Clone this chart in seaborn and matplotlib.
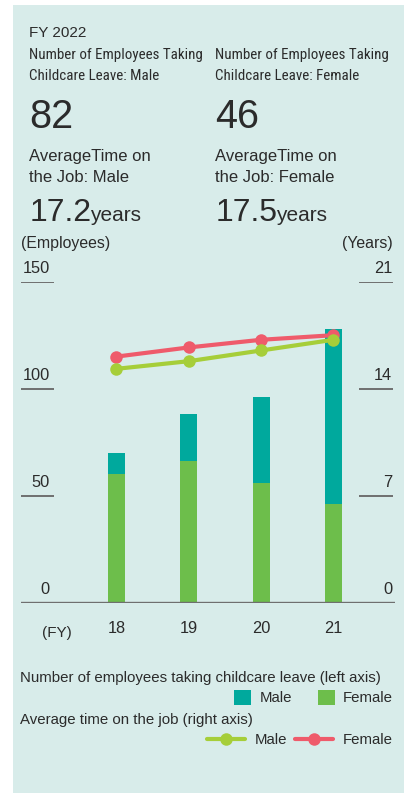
import matplotlib
matplotlib.use("Agg")
import matplotlib.pyplot as plt
import seaborn as sns
from matplotlib.patches import Rectangle
from matplotlib import font_manager

# data
fy = ["18", "19", "20", "21"]
leave_female = [60, 66, 56, 46]
leave_male = [10, 22, 40, 82]
years_male = [15.3, 15.8, 16.5, 17.2]
years_female = [16.1, 16.7, 17.2, 17.5]
left_ticks = [0, 50, 100, 150]
right_ticks = [0, 7, 14, 21]

leave_total = [f + m for f, m in zip(leave_female, leave_male)]

TEAL = "#00a99d"
GREEN = "#6dbe4b"
LIME = "#a6ce39"
RED = "#ef5b6b"
PANEL = "#d8ecea"
TXT = "#2b2b2b"
GRID = "#6f6f6f"

sns.set_style("white")
plt.rcParams["font.family"] = ["Liberation Sans", "DejaVu Sans"]
plt.rcParams["text.color"] = TXT

W, H = 404, 793
fig = plt.figure(figsize=(W / 100, H / 100), dpi=100, facecolor="white")


def px(x, y):
    return x / W, 1 - y / H


# panel background
fig.patches.append(Rectangle(px(13, H), (W - 13) / W, (H - 5) / H,
                             transform=fig.transFigure, facecolor=PANEL,
                             edgecolor="none", zorder=-10))

ax = fig.add_axes([21 / W, 1 - 602.7 / H, 374 / W, 321 / H])
ax.set_facecolor("none")

# stacked bars: total (male on top) then female in front
sns.barplot(x=fy, y=leave_total, color=TEAL, saturation=1, width=0.235,
            linewidth=0, edgecolor="none", ax=ax)
sns.barplot(x=fy, y=leave_female, color=GREEN, saturation=1, width=0.235,
            linewidth=0, edgecolor="none", ax=ax)

ax2 = ax.twinx()
ax2.set_facecolor("none")
sns.pointplot(x=fy, y=years_male, color=LIME, errorbar=None, ax=ax2,
              markersize=9, linewidth=3, markeredgewidth=0)
sns.pointplot(x=fy, y=years_female, color=RED, errorbar=None, ax=ax2,
              markersize=9, linewidth=3, markeredgewidth=0)
# red line behind green
ax2.lines[1].set_zorder(2)
ax2.lines[0].set_zorder(3)

for a in (ax, ax2):
    a.set_xlim(-1.321, 3.853)
    for s in a.spines.values():
        s.set_visible(False)
    a.set_xlabel("")
    a.set_ylabel("")
    a.set_yticks([])
ax.set_ylim(0, 150)
ax2.set_ylim(0, 21)
ax2.set_xticks([])

ax.set_xticks(range(len(fy)))
ax.set_xticklabels(fy, fontsize=11.8, color=TXT)
ax.tick_params(axis="x", length=0, pad=13)

# baseline and short tick rules
ax.axhline(0, color=GRID, lw=1.7, zorder=5)
ax.hlines(left_ticks[1:], 0, 0.089, transform=ax.get_yaxis_transform(),
          color=GRID, lw=1.4)
ax2.hlines(right_ticks[1:], 0.9045, 0.9955, transform=ax2.get_yaxis_transform(),
           color=GRID, lw=1.4)

for v in left_ticks:
    ax.annotate(str(v), xy=(0.077, v), xycoords=ax.get_yaxis_transform(),
                xytext=(0, 4), textcoords="offset points",
                ha="right", va="bottom", fontsize=11.8, color=TXT)
for v in right_ticks:
    ax2.annotate(str(v), xy=(0.992, v), xycoords=ax2.get_yaxis_transform(),
                 xytext=(0, 4), textcoords="offset points",
                 ha="right", va="bottom", fontsize=11.8, color=TXT)

ax.annotate("(FY)", xy=(0.096, 0), xycoords="axes fraction",
            xytext=(0, -17), textcoords="offset points",
            ha="center", va="top", fontsize=11, color=TXT)

fig.text(*px(21, 248), "(Employees)", fontsize=11.4, va="baseline")
fig.text(*px(393, 248), "(Years)", fontsize=11.4, va="baseline", ha="right")

# header block; condensed face if present, else smaller regular
names = {f.name for f in font_manager.fontManager.ttflist}
if "Liberation Sans Narrow" in names:
    narrow, nsize = ["Liberation Sans Narrow", "DejaVu Sans"], 10.8
elif "Roboto Condensed" in names:
    narrow, nsize = ["Roboto Condensed", "DejaVu Sans"], 10.8
else:
    narrow, nsize = ["Liberation Sans", "DejaVu Sans"], 9.7

fig.text(*px(29, 37), "FY 2022", fontsize=11, va="baseline")
for x0, who, big, yrs in [(29, "Male", "82", "17.2"), (215, "Female", "46", "17.5")]:
    fig.text(*px(x0, 59.5), "Number of Employees Taking", fontsize=nsize,
             family=narrow, va="baseline")
    fig.text(*px(x0, 80.5), "Childcare Leave: " + who, fontsize=nsize,
             family=narrow, va="baseline")
    fig.text(*px(x0, 128.3), big, fontsize=28.5, va="baseline")
    fig.text(*px(x0, 161), "AverageTime on", fontsize=12, va="baseline")
    fig.text(*px(x0, 181.7), "the Job: " + who, fontsize=12, va="baseline")
    fig.text(*px(x0 + 1, 221), yrs, fontsize=23, va="baseline")
    fig.text(*px(x0 + 61, 221), "years", fontsize=15, va="baseline")

# legend block
fig.text(*px(20, 682.3), "Number of employees taking childcare leave (left axis)",
         fontsize=10.8, va="baseline")
fig.text(*px(20, 724.3), "Average time on the job (right axis)",
         fontsize=10.8, va="baseline")

fig.legend([ax.containers[0], ax.containers[1]], ["Male", "Female"],
           ncol=2, loc="center right", bbox_to_anchor=px(393, 697.7),
           frameon=False, fontsize=10.8, borderpad=0, borderaxespad=0,
           handlelength=1.15, handleheight=1.15, handletextpad=0.55,
           columnspacing=1.7)
fig.legend([ax2.lines[0], ax2.lines[1]], ["Male", "Female"],
           ncol=2, loc="center right", bbox_to_anchor=px(393, 740),
           frameon=False, fontsize=10.8, borderpad=0, borderaxespad=0,
           handlelength=2.5, handletextpad=0.7, columnspacing=0.5,
           numpoints=1)

fig.savefig("out.png", dpi=100, facecolor="white")
